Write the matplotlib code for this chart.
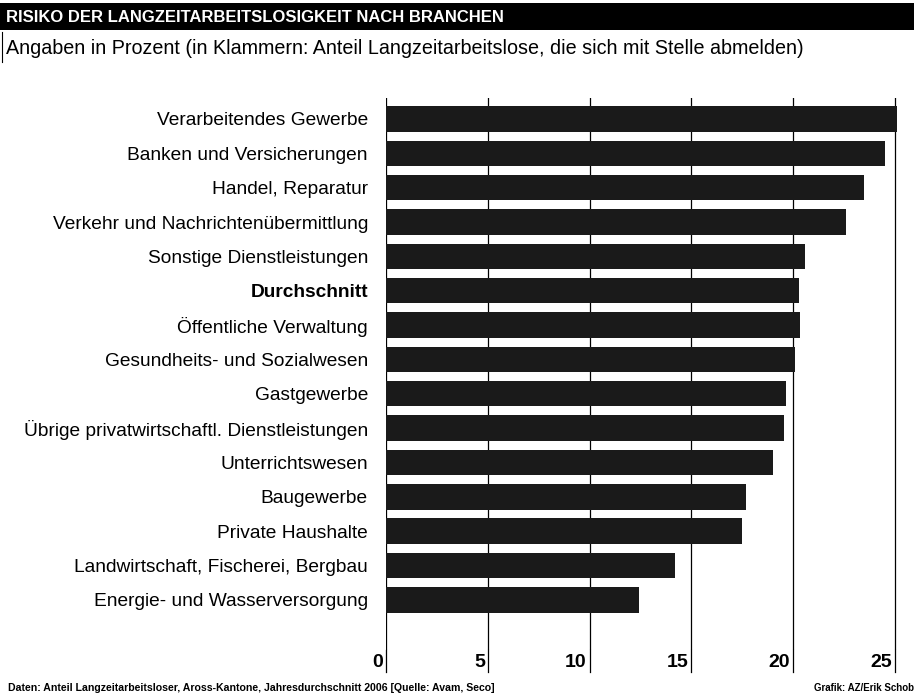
import matplotlib
matplotlib.use("Agg")
import matplotlib.pyplot as plt
from matplotlib.patches import Rectangle
from matplotlib.transforms import blended_transform_factory, offset_copy

plt.rcParams['font.family'] = ['Liberation Sans', 'DejaVu Sans']

# Daten (Prozent), von oben nach unten
branchen = [
    "Verarbeitendes Gewerbe",
    "Banken und Versicherungen",
    "Handel, Reparatur",
    "Verkehr und Nachrichtenübermittlung",
    "Sonstige Dienstleistungen",
    "Durchschnitt",
    "Öffentliche Verwaltung",
    "Gesundheits- und Sozialwesen",
    "Gastgewerbe",
    "Übrige privatwirtschaftl. Dienstleistungen",
    "Unterrichtswesen",
    "Baugewerbe",
    "Private Haushalte",
    "Landwirtschaft, Fischerei, Bergbau",
    "Energie- und Wasserversorgung",
]
risiko = [25.1, 24.5, 23.5, 22.6, 20.6, 20.3, 20.35, 20.1, 19.65, 19.55, 19.0, 17.7, 17.5, 14.2, 12.45]
x_ticks = [0, 5, 10, 15, 20, 25]

fig = plt.figure(figsize=(9.14, 6.97), dpi=100)
W, H = 914, 697

# Titelbalken
fig.patches.append(Rectangle((0, 1 - 30 / H), 1, 27 / H, transform=fig.transFigure,
                             facecolor="black", edgecolor="none"))
fig.text(6 / W, 1 - 17 / H, "RISIKO DER LANGZEITARBEITSLOSIGKEIT NACH BRANCHEN",
         color="white", fontsize=12, fontweight="bold", va="center", ha="left")
fig.text(6 / W, 1 - 48 / H,
         "Angaben in Prozent (in Klammern: Anteil Langzeitarbeitslose, die sich mit Stelle abmelden)",
         color="black", fontsize=14.2, va="center", ha="left")
fig.lines.append(plt.Line2D([2 / W, 2 / W], [1 - 32 / H, 1 - 62 / H], transform=fig.transFigure,
                            color="black", lw=0.8))

# Achse: 0 bei x=386 px, 25 bei x=895 px
ax = fig.add_axes([386 / W, 1 - 650 / H, (900 - 386) / W, (650 - 98) / H])
y = list(range(len(branchen)))
ax.barh(y, risiko, height=0.74, color="#1a1a1a", edgecolor="none", zorder=2)
ax.set_xlim(0, 25 * (900 - 386) / (895 - 386))
ax.set_ylim(14 + 1.46, -0.61)

for x in x_ticks:
    ax.axvline(x, color="black", lw=0.9, zorder=1)
for s in ax.spines.values():
    s.set_visible(False)
ax.set_xticks([])
ax.tick_params(axis="y", length=0, pad=13)
ax.set_yticks(y)
ax.set_yticklabels(branchen, fontsize=13.8)
for lab in ax.get_yticklabels():
    if lab.get_text() == "Durchschnitt":
        lab.set_fontweight("bold")

# x-Beschriftung links neben den Gitterlinien
trans = blended_transform_factory(ax.transData, ax.transAxes)
for x in x_ticks:
    ax.plot([x, x], [0, -0.04], transform=trans, color="black", lw=0.9, clip_on=False)
    ax.text(x, -0.022, str(x), transform=offset_copy(trans, fig=fig, x=-3, units="dots"),
            ha="right", va="center", fontsize=14, fontweight="bold")

fig.text(8 / W, 1 - 688 / H,
         "Daten: Anteil Langzeitarbeitsloser, Aross-Kantone, Jahresdurchschnitt 2006 [Quelle: Avam, Seco]",
         fontsize=7.6, fontweight="bold", va="center", ha="left")
fig.text(1.0, 1 - 688 / H, "Grafik: AZ/Erik Schob", fontsize=7, fontweight="bold",
         va="center", ha="right")

fig.savefig("out.png", dpi=100)
